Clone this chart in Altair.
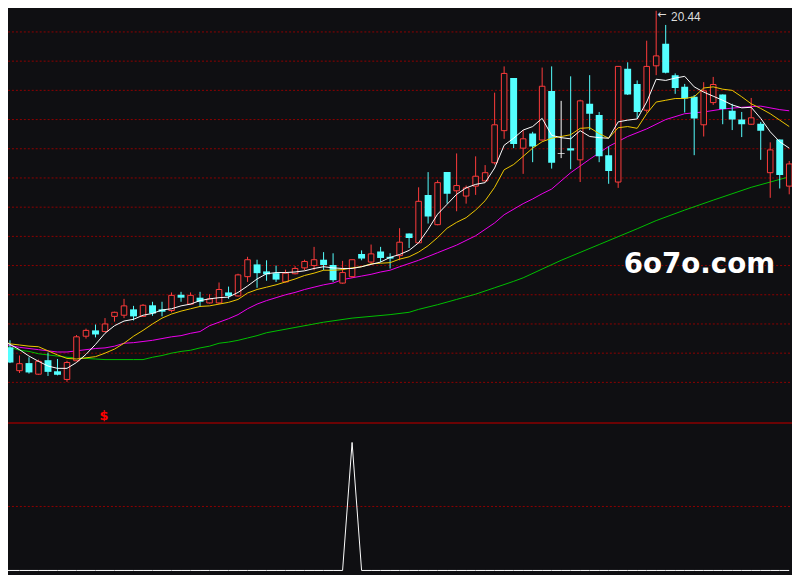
import altair as alt
import pandas as pd

# ---- candle data (84 trading days, index 0..83) ----
opens = [14.82, 14.60, 14.20, 14.33, 14.14, 14.38, 14.19, 14.05, 14.37, 14.79,
         14.89, 14.87, 15.13, 15.15, 15.25, 15.13, 15.32, 15.25, 15.23, 15.50,
         15.34, 15.45, 15.36, 15.36, 15.54, 15.48, 15.81, 16.02, 15.90, 15.87,
         15.72, 15.86, 15.96, 16.00, 16.10, 16.01, 15.70, 15.81, 16.20, 16.06,
         16.24, 16.15, 16.17, 16.55, 16.39, 17.21, 16.70, 17.60, 17.28, 17.19,
         17.36, 17.45, 17.76, 18.31, 19.21, 18.01, 18.26, 18.15, 18.99, 17.92,
         18.01, 17.81, 18.77, 18.58, 17.89, 17.43, 19.37, 19.11, 18.66, 19.42,
         19.80, 19.26, 19.06, 18.89, 18.41, 18.79, 18.93, 18.65, 18.50, 18.42,
         18.43, 17.59, 18.16, 17.36]
closes = [14.72, 14.34, 14.32, 14.17, 14.36, 14.18, 14.13, 14.34, 14.78, 14.89,
          14.82, 15.00, 15.20, 15.31, 15.13, 15.32, 15.18, 15.21, 15.49, 15.45,
          15.49, 15.38, 15.43, 15.59, 15.48, 15.84, 16.10, 15.87, 15.85, 15.76,
          15.87, 15.95, 16.07, 16.10, 16.01, 15.75, 15.88, 16.10, 16.12, 16.20,
          16.13, 16.12, 16.40, 16.47, 17.10, 16.84, 17.42, 17.23, 17.37, 17.33,
          17.53, 17.59, 18.41, 19.29, 18.08, 18.17, 18.04, 19.07, 17.76, 17.92,
          17.97, 18.82, 18.60, 17.87, 17.62, 19.41, 18.93, 18.63, 19.41, 19.59,
          19.30, 19.04, 18.86, 18.52, 18.99, 19.10, 18.68, 18.50, 18.42, 18.53,
          18.31, 17.98, 17.55, 17.74]
highs = [14.85, 14.72, 14.46, 14.43, 14.39, 14.51, 14.40, 14.37, 14.81, 14.92,
         14.99, 15.10, 15.21, 15.43, 15.31, 15.34, 15.38, 15.38, 15.54, 15.55,
         15.54, 15.55, 15.51, 15.71, 15.64, 15.86, 16.15, 16.10, 16.09, 16.00,
         15.93, 15.99, 16.10, 16.32, 16.23, 16.21, 16.08, 16.10, 16.26, 16.36,
         16.32, 16.21, 16.64, 16.55, 17.34, 17.60, 17.46, 17.60, 17.92, 17.37,
         17.87, 17.72, 18.96, 19.41, 19.21, 18.32, 18.29, 19.39, 19.41, 18.82,
         19.24, 18.84, 19.26, 18.63, 18.04, 19.41, 19.48, 19.17, 19.85, 20.44,
         20.12, 19.29, 19.11, 18.92, 19.14, 19.23, 18.93, 18.77, 18.63, 18.87,
         18.46, 18.11, 18.16, 17.79]
lows = [14.68, 14.33, 14.16, 14.15, 14.13, 14.11, 14.12, 14.01, 14.36, 14.75,
        14.77, 14.86, 15.04, 15.10, 15.06, 15.12, 15.14, 15.13, 15.20, 15.38,
        15.33, 15.29, 15.35, 15.34, 15.43, 15.47, 15.72, 15.62, 15.74, 15.72,
        15.71, 15.85, 15.92, 15.92, 15.92, 15.72, 15.69, 15.79, 16.09, 16.03,
        16.06, 15.95, 16.09, 16.30, 16.38, 16.72, 16.69, 17.06, 16.93, 17.06,
        17.21, 17.44, 17.73, 18.17, 18.01, 17.57, 17.77, 18.14, 17.66, 17.84,
        17.65, 17.43, 18.32, 17.77, 17.40, 17.33, 18.92, 18.52, 18.62, 19.26,
        19.29, 18.94, 18.62, 17.89, 18.21, 18.75, 18.42, 18.32, 18.20, 18.41,
        17.81, 17.16, 17.32, 17.22]

# ---- moving averages ----
ma5 = [14.73, 14.65, 14.56, 14.45, 14.36, 14.28, 14.24, 14.24, 14.34, 14.48,
       14.65, 14.84, 14.97, 15.05, 15.08, 15.15, 15.18, 15.24, 15.26, 15.31,
       15.34, 15.40, 15.43, 15.45, 15.46, 15.54, 15.65, 15.77, 15.86, 15.88,
       15.88, 15.89, 15.91, 15.95, 15.98, 15.96, 15.95, 15.95, 15.98, 16.02,
       16.06, 16.14, 16.19, 16.26, 16.39, 16.62, 16.88, 17.05, 17.22, 17.33,
       17.39, 17.42, 17.67, 18.06, 18.18, 18.32, 18.38, 18.52, 18.23, 18.19,
       18.17, 18.31, 18.21, 18.19, 18.18, 18.46, 18.49, 18.51, 18.80, 19.19,
       19.17, 19.21, 19.24, 19.06, 18.97, 18.90, 18.83, 18.75, 18.70, 18.71,
       18.52, 18.29, 18.12, 18.01]
ma10 = [14.72, 14.66, 14.64, 14.62, 14.61, 14.54, 14.47, 14.41, 14.40, 14.42,
        14.44, 14.50, 14.57, 14.67, 14.79, 14.89, 15.00, 15.10, 15.17, 15.22,
        15.26, 15.30, 15.31, 15.34, 15.37, 15.42, 15.53, 15.59, 15.63, 15.67,
        15.72, 15.77, 15.83, 15.87, 15.92, 15.92, 15.93, 15.96, 15.98, 16.03,
        16.04, 16.05, 16.11, 16.15, 16.23, 16.34, 16.48, 16.64, 16.74, 16.82,
        16.95, 17.11, 17.34, 17.64, 17.73, 17.87, 18.01, 18.12, 18.18, 18.21,
        18.24, 18.35, 18.36, 18.26, 18.18, 18.36, 18.38, 18.35, 18.60, 18.80,
        18.83, 18.86, 18.86, 18.89, 19.04, 19.06, 19.02, 19.00, 18.89, 18.77,
        18.69, 18.60, 18.49, 18.38]
ma20_idx = list(range(0, 43)) + [44, 46, 48, 50, 52, 53, 55, 56, 57, 58, 60, 62, 64,
                                 66, 68, 70, 72, 74, 76, 78, 80, 82, 83]
ma20 = [14.68, 14.63, 14.60, 14.58, 14.56, 14.54, 14.52, 14.52, 14.54, 14.56,
        14.58, 14.59, 14.62, 14.67, 14.68, 14.70, 14.72, 14.75, 14.78, 14.80,
        14.84, 14.87, 14.97, 15.03, 15.09, 15.16, 15.26, 15.34, 15.40, 15.45,
        15.50, 15.54, 15.59, 15.63, 15.67, 15.70, 15.76, 15.79, 15.82, 15.85,
        15.89, 15.92, 15.98,
        16.09, 16.22, 16.35, 16.51, 16.73, 16.87, 17.06, 17.14, 17.23, 17.31,
        17.59, 17.82, 18.04, 18.21, 18.34, 18.50, 18.60, 18.63, 18.68, 18.71,
        18.73, 18.67, 18.65]
ma60_idx = [0, 1, 2, 3, 4, 5, 6, 7, 8, 9, 10, 11, 14, 15, 16, 17, 18, 19, 20, 21,
            22, 23, 24, 25, 26, 27, 28, 31, 34, 37, 41, 43, 44, 46, 48, 50, 52,
            54, 55, 59, 63, 67, 69, 72, 75, 79, 83]
ma60 = [14.63, 14.60, 14.55, 14.53, 14.49, 14.47, 14.45, 14.43, 14.42, 14.41,
        14.40, 14.39, 14.39, 14.39, 14.43, 14.46, 14.50, 14.53, 14.55, 14.59,
        14.62, 14.67, 14.69, 14.72, 14.76, 14.80, 14.85, 14.94, 15.03, 15.10,
        15.16, 15.20, 15.25, 15.33, 15.42, 15.51, 15.62, 15.73, 15.79, 16.09,
        16.36, 16.63, 16.77, 16.95, 17.12, 17.34, 17.52]

# ---- lower-pane signal indicator ----
signal = [0, 0, 0, 0, 0, 0, 0, 0, 0, 0,
          0, 0, 0, 0, 0, 0, 0, 0, 0, 0,
          0, 0, 0, 0, 0, 0, 0, 0, 0, 0,
          0, 0, 0, 0, 0, 0, 0, 1, 0, 0,
          0, 0, 0, 0, 0, 0, 0, 0, 0, 0,
          0, 0, 0, 0, 0, 0, 0, 0, 0, 0,
          0, 0, 0, 0, 0, 0, 0, 0, 0, 0,
          0, 0, 0, 0, 0, 0, 0, 0, 0, 0,
          0, 0, 0, 0]
lower_grid = [0.5]
grid_prices = [20.0, 19.5, 19.0, 18.5, 18.0, 17.5, 17.0, 16.5, 16.0, 15.5, 15.0, 14.5, 14.0]
mark_idx = [11]
mark_text = ["$"]
watermark = ["6o7o.com"]

# ---- styling ----
BG = "#0f0f12"
RED = "#ff3c3c"
CYAN = "#54ffff"
WHITE = "#ffffff"
YELLOW = "#f0c800"
MAGENTA = "#f000f0"
GREEN = "#00c000"
GRID = "#900000"

W, H = 792, 567

n = len(opens)
idx = list(range(n))
dirs = ["up" if c > o else ("down" if c < o else "flat") for o, c in zip(opens, closes)]
candles = pd.DataFrame({"i": idx, "open": opens, "close": closes,
                        "high": highs, "low": lows, "dir": dirs})

xs = alt.Scale(domain=[0.79167, 83.29167], range=[0, W], nice=False, zero=False, padding=0)
ys = alt.Scale(domain=[13.305, 20.361], range=[416.3, 0], nice=False, zero=False, padding=0)
ls = alt.Scale(domain=[0, 1], range=[565.3, 436], nice=False, zero=False, padding=0)

X = alt.X("i:Q", scale=xs, axis=None)

grid = alt.Chart(pd.DataFrame({"p": grid_prices})).mark_rule(
    color=GRID, strokeWidth=1, strokeDash=[2, 2]
).encode(y=alt.Y("p:Q", scale=ys, axis=None), x=alt.value(0), x2=alt.value(W))

lgrid = alt.Chart(pd.DataFrame({"g": lower_grid})).mark_rule(
    color=GRID, strokeWidth=1, strokeDash=[2, 2]
).encode(y=alt.Y("g:Q", scale=ls, axis=None), x=alt.value(0), x2=alt.value(W))

sep = alt.Chart(pd.DataFrame({"s": [0]})).mark_rule(
    color="#8b0000", strokeWidth=1.6
).encode(y=alt.value(416.3), x=alt.value(0), x2=alt.value(W))

base = alt.Chart(candles)

wicks = base.mark_rule(strokeWidth=1, clip=True).encode(
    x=X,
    y=alt.Y("low:Q", scale=ys, axis=None),
    y2="high:Q",
    color=alt.Color("dir:N", scale=alt.Scale(domain=["up", "down", "flat"],
                                             range=[RED, CYAN, WHITE]), legend=None),
)

down_bodies = base.transform_filter("datum.dir == 'down'").mark_bar(
    size=7, color=CYAN, clip=True
).encode(x=X, y=alt.Y("open:Q", scale=ys, axis=None), y2="close:Q")

up_bodies = base.transform_filter("datum.dir == 'up'").mark_bar(
    size=5.6, fill=BG, stroke=RED, strokeWidth=1, clip=True
).encode(x=X, y=alt.Y("open:Q", scale=ys, axis=None), y2="close:Q")

flat_bodies = base.transform_filter("datum.dir == 'flat'").mark_tick(
    orient="horizontal", size=7, thickness=1, color=WHITE, clip=True
).encode(x=X, y=alt.Y("open:Q", scale=ys, axis=None))


def ma_line(ix, vals, color):
    return alt.Chart(pd.DataFrame({"i": ix, "v": vals})).mark_line(
        color=color, strokeWidth=1, clip=True
    ).encode(x=X, y=alt.Y("v:Q", scale=ys, axis=None))


l60 = ma_line(ma60_idx, ma60, GREEN)
l20 = ma_line(ma20_idx, ma20, MAGENTA)
l10 = ma_line(idx, ma10, YELLOW)
l5 = ma_line(idx, ma5, WHITE)

hi = max(range(n), key=lambda k: highs[k])
hi_df = pd.DataFrame({"i": [hi], "p": [highs[hi]], "label": [f"{highs[hi]:.2f}"]})
hi_arrow = alt.Chart(hi_df).mark_text(
    text="\u2190", font="DejaVu Sans", fontSize=11, color="#dcdcdc",
    align="left", baseline="middle", dx=1, dy=9
).encode(x=X, y=alt.Y("p:Q", scale=ys, axis=None))
hi_label = alt.Chart(hi_df).mark_text(
    font="Liberation Sans", fontSize=12, color="#dcdcdc",
    align="left", baseline="middle", dx=15, dy=11
).encode(x=X, y=alt.Y("p:Q", scale=ys, axis=None), text="label:N")

sig_mark = alt.Chart(pd.DataFrame({"i": mark_idx, "t": mark_text})).mark_text(
    font="DejaVu Sans", fontSize=13, fontWeight="bold", color="#ff0000",
    align="center", baseline="alphabetic", dx=-1
).encode(x=X, y=alt.value(413), text="t:N")

lower = alt.Chart(pd.DataFrame({"i": idx, "s": signal})).mark_line(
    color=WHITE, strokeWidth=1, clip=True
).encode(x=X, y=alt.Y("s:Q", scale=ls, axis=None))

wm = alt.Chart(pd.DataFrame({"t": watermark})).mark_text(
    font="DejaVu Sans", fontSize=28, fontWeight="bold", color=WHITE,
    align="left", baseline="alphabetic"
).encode(x=alt.value(622), y=alt.value(265), text="t:N")

chart = alt.layer(
    grid, lgrid, sep, l60, l20, wicks, down_bodies, up_bodies, flat_bodies,
    l10, l5, lower, sig_mark, wm, hi_arrow, hi_label
).resolve_scale(y="independent").properties(
    width=W, height=H, padding=0,
    autosize=alt.AutoSizeParams(type="none"),
).configure(background=BG).configure_view(strokeWidth=0)

chart.save("out.html", embed_options={"renderer": "svg", "actions": False})
